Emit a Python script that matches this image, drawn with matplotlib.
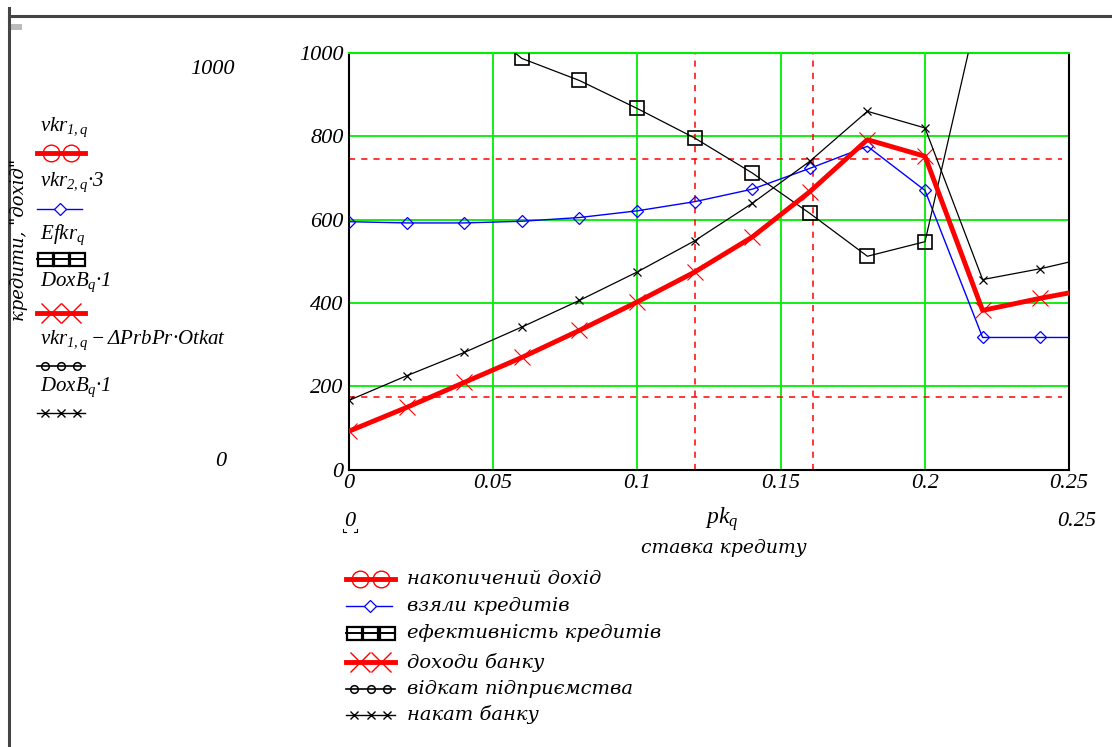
import numpy as np
import matplotlib.pyplot as plt
from matplotlib.font_manager import FontProperties

plt.rcParams['font.family'] = ['Liberation Serif', 'DejaVu Serif']
plt.rcParams['font.style'] = 'italic'
plt.rcParams['mathtext.fontset'] = 'custom'
plt.rcParams['mathtext.it'] = 'Liberation Serif:italic'
plt.rcParams['mathtext.rm'] = 'Liberation Serif:italic'

# ---- дані ----
pk = [0.0, 0.02, 0.04, 0.06, 0.08, 0.10, 0.12, 0.14, 0.16, 0.18, 0.20, 0.22, 0.24, 0.26]
vzyaly = [595, 592, 592, 596, 605, 621, 643, 673, 723, 776, 670, 317, 317, 317]
efkr = [1330, 1210, 1100, 987, 934, 867, 796, 712, 615, 512, 547, 1150, 1500, 1700]
doxb = [92, 149, 209, 269, 334, 402, 474, 558, 667, 792, 752, 382, 411, 437]
nakat = [166, 225, 281, 342, 406, 474, 549, 639, 740, 860, 820, 456, 482, 514]

makban007 = 0.12
makban00 = 0.161
doxpre = 745
bnkmak = 173

xticks = [0, 0.05, 0.1, 0.15, 0.2, 0.25]
xtick_labels = ['0', '0.05', '0.1', '0.15', '0.2', '0.25']
yticks = [0, 200, 400, 600, 800, 1000]
ytick_labels = ['0', '200', '400', '600', '800', '1000']

legend_labels = ['накопичений дохід', 'взяли кредитів', 'ефективність кредитів',
                 'доходи банку', 'відкат підприємства', 'накат банку']
trace_names = [r'$vkr_{1,q}$', r'$vkr_{2,q}·3$', r'$Efkr_q$', r'$DoxB_q·1$',
               r'$vkr_{1,q}−ΔPrbPr·Otkat$', r'$DoxB_q·1$']

W, H = 1112, 747
fig = plt.figure(figsize=(W / 100, H / 100), dpi=100)

ax = fig.add_axes([349 / W, 1 - 469.5 / H, 720 / W, 416.5 / H])
ax.set_xlim(0, 0.25)
ax.set_ylim(0, 1000)

green = '#00ee00'
tick_fp = FontProperties(family='Liberation Serif', style='italic', size=16)
ax.tick_params(length=0)
ax.tick_params(axis='x', pad=3)
ax.tick_params(axis='y', pad=4)
ax.set_xticks(xticks)
ax.set_xticklabels(xtick_labels, fontproperties=tick_fp)
ax.set_yticks(yticks)
ax.set_yticklabels(ytick_labels, fontproperties=tick_fp)
ax.grid(True, color=green, lw=1.3, ls='-')
ax.set_axisbelow(True)
for s in ax.spines.values():
    s.set_linewidth(1.5)
ax.spines['top'].set_color(green)

# маркери Mathcad (червоні пунктирні)
ax.axhline(doxpre, xmin=0, xmax=0.99, color='red', ls=(0, (4, 4)), lw=1.1)
ax.axhline(bnkmak, xmin=0, xmax=0.99, color='red', ls=(0, (4, 4)), lw=1.1)
ax.axvline(makban007, color='red', ls=(0, (4, 4)), lw=1.1)
ax.axvline(makban00, color='red', ls=(0, (4, 4)), lw=1.1)

ax.plot(pk, vzyaly, color='blue', lw=1.0, marker='D', ms=6.5, mfc='none', mec='blue', mew=0.9, zorder=3)
ax.plot(pk, efkr, color='black', lw=0.9, marker='s', ms=9.5, mfc='none', mec='black', mew=1.2, zorder=4)
ax.plot(pk, doxb, color='red', lw=3.5, marker='x', ms=12, mec='red', mew=0.8, zorder=5)
ax.plot(pk, nakat, color='black', lw=0.9, marker='x', ms=6, mec='black', mew=0.9, zorder=6)

# ---- накладка у піксельних координатах ----
ov = fig.add_axes([0, 0, 1, 1], zorder=-1)
ov.set_xlim(0, W)
ov.set_ylim(H, 0)
ov.axis('off')

ov.plot([8.5, 8.5], [8, H], color='#444444', lw=2.2)
ov.plot([8.5, W], [16, 16], color='#444444', lw=2.2)
ov.add_patch(plt.Rectangle((10, 24), 12, 6, color='#bbbbbb', lw=0))

fs = 16
cyr = ['DejaVu Serif']
ov.text(235, 70, '1000', ha='right', va='center', fontsize=fs)
ov.text(226, 462, '0', ha='right', va='center', fontsize=fs)
ov.text(19, 240, 'кредити, "дохід"', rotation=90, ha='center', va='center',
        fontsize=13, family=cyr)

ov.text(652, 104, 'makban007', ha='left', va='center', fontsize=fs)
ov.text(782, 104, 'makban00', ha='left', va='center', fontsize=fs)
ov.text(1064, 132, 'doxpre', ha='right', va='center', fontsize=fs)
ov.text(1064, 366, 'bnkmak', ha='right', va='center', fontsize=fs)

ov.text(350, 521, '0', ha='center', va='center', fontsize=fs)
ov.plot([343, 343, 346], [529, 532, 532], color='black', lw=0.8)
ov.plot([354, 357, 357], [532, 532, 529], color='black', lw=0.8)
ov.text(722, 519, r'$pk_q$', ha='center', va='center', fontsize=fs + 1)
ov.text(1077, 521, '0.25', ha='center', va='center', fontsize=fs)
ov.text(724, 548, 'ставка кредиту', ha='center', va='center', fontsize=13.5, family=cyr)


def sample(x0, x1, y, kind):
    xs3 = np.linspace(x0 + 8, x1 - 8, 3)
    xs2 = [x0 + 14, x1 - 14]
    if kind == 0:
        ov.plot([x0, x1], [y, y], color='red', lw=3.5)
        ov.plot(xs2, [y, y], ls='none', marker='o', ms=12, mfc='none', mec='red', mew=1.0)
    elif kind == 1:
        ov.plot([x0, x1 - 3], [y, y], color='blue', lw=1.0)
        ov.plot([(x0 + x1) / 2 - 1], [y], marker='D', ms=6.5, mfc='white', mec='blue', mew=0.9)
    elif kind == 2:
        for xc in xs3:
            ov.add_patch(plt.Rectangle((xc - 7.5, y - 6.5), 15, 13, fill=False, ec='black', lw=1.6))
        ov.plot([x0, x1], [y, y], color='black', lw=1.4)
    elif kind == 3:
        ov.plot([x0, x1], [y, y], color='red', lw=3.5)
        ov.plot(xs2, [y, y], ls='none', marker='x', ms=14, mec='red', mew=1.0)
    elif kind == 4:
        ov.plot([x0, x1], [y, y], color='black', lw=1.2)
        ov.plot(xs3, [y, y, y], ls='none', marker='o', ms=5.5, mfc='none', mec='black', mew=1.1)
    else:
        ov.plot([x0, x1], [y, y], color='black', lw=1.0)
        ov.plot(xs3, [y, y, y], ls='none', marker='x', ms=6, mec='black', mew=1.0)


# ліва легенда
left_text_y = [127, 182, 235, 282, 340, 387]
left_mark_y = [153, 209, 259, 313, 366, 413]
for i in range(6):
    ov.text(40, left_text_y[i], trace_names[i], ha='left', va='center', fontsize=15)
    sample(37, 85, left_mark_y[i], i)

# нижня легенда
bottom_y = [579, 606, 633, 662, 689, 715]
for i in range(6):
    sample(346, 395, bottom_y[i], i)
    ov.text(407, bottom_y[i], legend_labels[i], ha='left', va='center', fontsize=14, family=cyr)

fig.savefig('out.png', dpi=100)
